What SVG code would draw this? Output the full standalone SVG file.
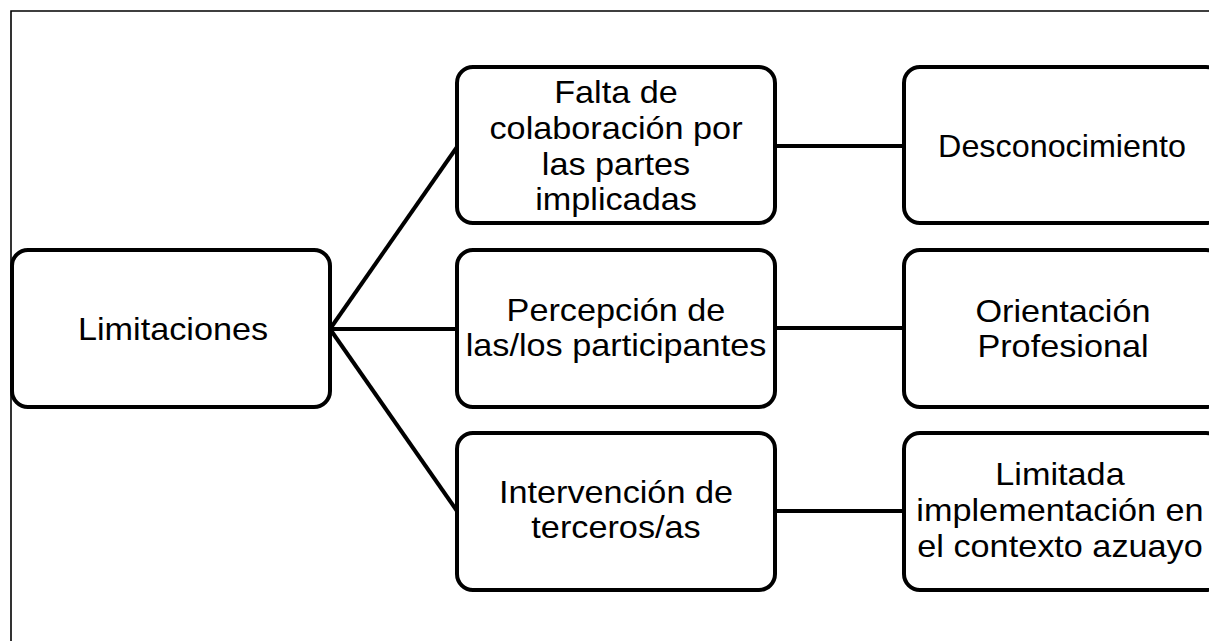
<svg xmlns="http://www.w3.org/2000/svg" width="1209" height="641" viewBox="0 0 1209 641">
<style>
.box{fill:#fff;stroke:#000;stroke-width:4}
.t{font-family:"Liberation Sans",Arial,sans-serif;font-size:32px;fill:#000;text-anchor:middle}
.c{stroke:#000;stroke-width:4;fill:none}
.frame{stroke:#000;stroke-width:1.6;fill:none}
</style>
<rect x="0" y="0" width="1209" height="641" fill="#fff"/>
<path class="frame" d="M11 641 V11 H1209"/>
<g id="connectors">
<line class="c" x1="330" y1="329" x2="457" y2="147"/>
<line class="c" x1="330" y1="329" x2="457" y2="329"/>
<line class="c" x1="330" y1="329" x2="457" y2="511"/>
<line class="c" x1="775" y1="146" x2="904" y2="146"/>
<line class="c" x1="775" y1="328" x2="904" y2="328"/>
<line class="c" x1="775" y1="511" x2="904" y2="511"/>
</g>
<g id="limitaciones">
<rect class="box" x="12" y="250" width="318" height="157" rx="16"/>
<g transform="matrix(1.07,0,0,1,173,0)"><text class="t" x="0" y="340">Limitaciones</text></g>
</g>
<g id="falta">
<rect class="box" x="457" y="67" width="318" height="156" rx="16"/>
<g transform="matrix(1.07,0,0,1,616,0)">
<text class="t" x="0" y="103">Falta de</text>
<text class="t" x="0" y="139">colaboración por</text>
<text class="t" x="0" y="175">las partes</text>
<text class="t" x="0" y="210">implicadas</text>
</g>
</g>
<g id="percepcion">
<rect class="box" x="457" y="250" width="318" height="157" rx="16"/>
<g transform="matrix(1.07,0,0,1,616,0)">
<text class="t" x="0" y="321">Percepción de</text>
<text class="t" x="0" y="356">las/los participantes</text>
</g>
</g>
<g id="intervencion">
<rect class="box" x="457" y="433" width="318" height="157" rx="16"/>
<g transform="matrix(1.07,0,0,1,616,0)">
<text class="t" x="0" y="503">Intervención de</text>
<text class="t" x="0" y="538">terceros/as</text>
</g>
</g>
<g id="desconocimiento">
<rect class="box" x="904" y="67" width="318" height="156" rx="16"/>
<g transform="matrix(1.01,0,0,1,1062,0)"><text class="t" x="0" y="157">Desconocimiento</text></g>
</g>
<g id="orientacion">
<rect class="box" x="904" y="250" width="318" height="157" rx="16"/>
<g transform="matrix(1.07,0,0,1,1063,0)">
<text class="t" x="0" y="322">Orientación</text>
<text class="t" x="0" y="357">Profesional</text>
</g>
</g>
<g id="limitada">
<rect class="box" x="904" y="433" width="318" height="157" rx="16"/>
<g transform="matrix(1.07,0,0,1,1060,0)">
<text class="t" x="0" y="485">Limitada</text>
<text class="t" x="0" y="521">implementación en</text>
<text class="t" x="0" y="557">el contexto azuayo</text>
</g>
</g>
</svg>
